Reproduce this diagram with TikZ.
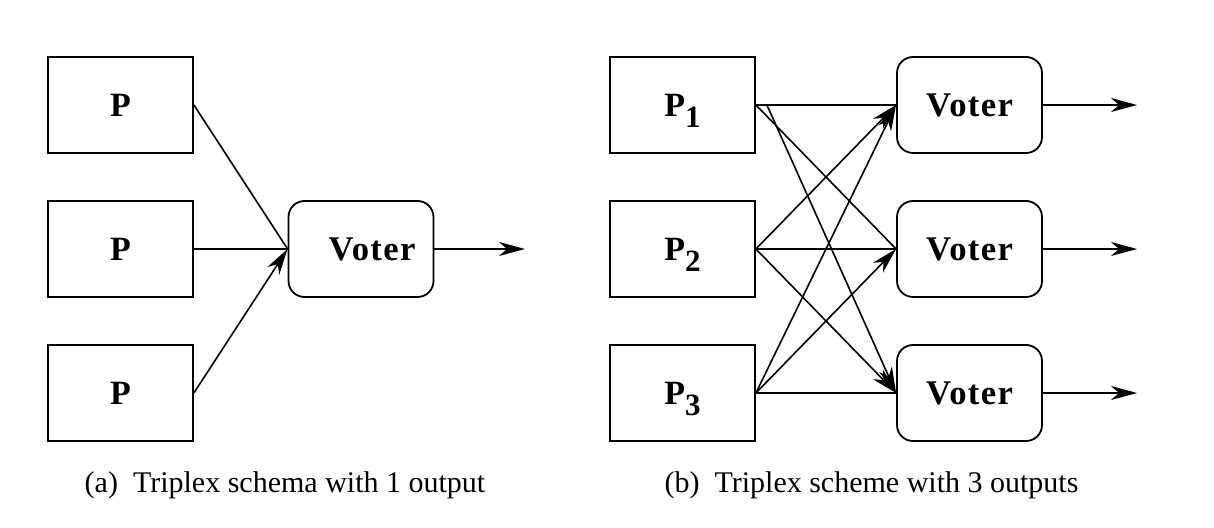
\documentclass[tikz,border=0pt]{standalone}
\usepackage{fontspec}
\setmainfont{Liberation Serif}
\newfontfamily\boxfont[LetterSpace=4]{Liberation Serif}
\usetikzlibrary{arrows.meta}

\tikzset{
    procbox/.style={draw, line width=0.9pt, minimum width=72.5pt, minimum height=48pt, inner sep=0pt, font=\boxfont\bfseries\fontsize{17}{18}\selectfont},
    voterbox/.style={procbox, rounded corners=8pt, font=\boxfont\bfseries\fontsize{17.3}{18}\selectfont},
    wire/.style={line width=0.8pt},
    caption/.style={anchor=base, inner sep=0pt, font=\fontsize{15}{18}\selectfont}
}

\begin{document}
\begin{tikzpicture}[x=0.5pt, y=-0.5pt, >={Stealth[length=13pt,width=7pt,inset=4pt]}]

    % Fixes the frame of the whole figure
    \useasboundingbox (0,0) rectangle (1214,528);

    % Draws the three processors and the voter of the first schema
    \foreach \i/\y in {1/105,2/249,3/393} {
        \node[procbox] (pa\i) at (120.5,\y) {P};
    }
    \node[voterbox] (va) at (361,249) {\hspace{11pt}Voter};
    \coordinate (oa) at (525,249);

    % Connects the processors to the single voter
    \draw[wire] (pa1.east) -- (va.west);
    \draw[wire] (pa2.east) -- (va.west);
    \draw[wire,->] (pa3.east) -- (va.west);
    \draw[wire,->] (va.east) -- (oa);

    % Draws the processors and the voters of the second scheme
    \foreach \i/\y in {1/105,2/249,3/393} {
        \node[procbox] (pb\i) at (682.5,\y) {P\raisebox{-5.5pt}[0pt][0pt]{\fontsize{15.5}{16}\selectfont\i}};
        \node[voterbox] (vb\i) at (969.5,\y) {Voter};
        \coordinate (ob\i) at (1137,\y);
        \draw[wire,->] (vb\i.east) -- (ob\i);
    }

    % Connects every processor to every voter
    \draw[wire] (pb1.east) -- (vb1.west);
    \draw[wire] (pb1.east) -- (vb2.west);
    \draw[wire,->] ([xshift=5.5pt]pb1.east) -- (vb3.west);
    \draw[wire,->] (pb2.east) -- (vb1.west);
    \draw[wire] (pb2.east) -- (vb2.west);
    \draw[wire,->] (pb2.east) -- (vb3.west);
    \draw[wire,->] (pb3.east) -- (vb1.west);
    \draw[wire,->] (pb3.east) -- (vb2.west);
    \draw[wire] (pb3.east) -- (vb3.west);

    % Writes the captions under both figures
    \node[caption] (capa) at (285,493) {(a)\ \ Triplex schema with 1 output};
    \node[caption] (capb) at (871.5,493) {(b)\ \ Triplex scheme with 3 outputs};

\end{tikzpicture}
\end{document}
